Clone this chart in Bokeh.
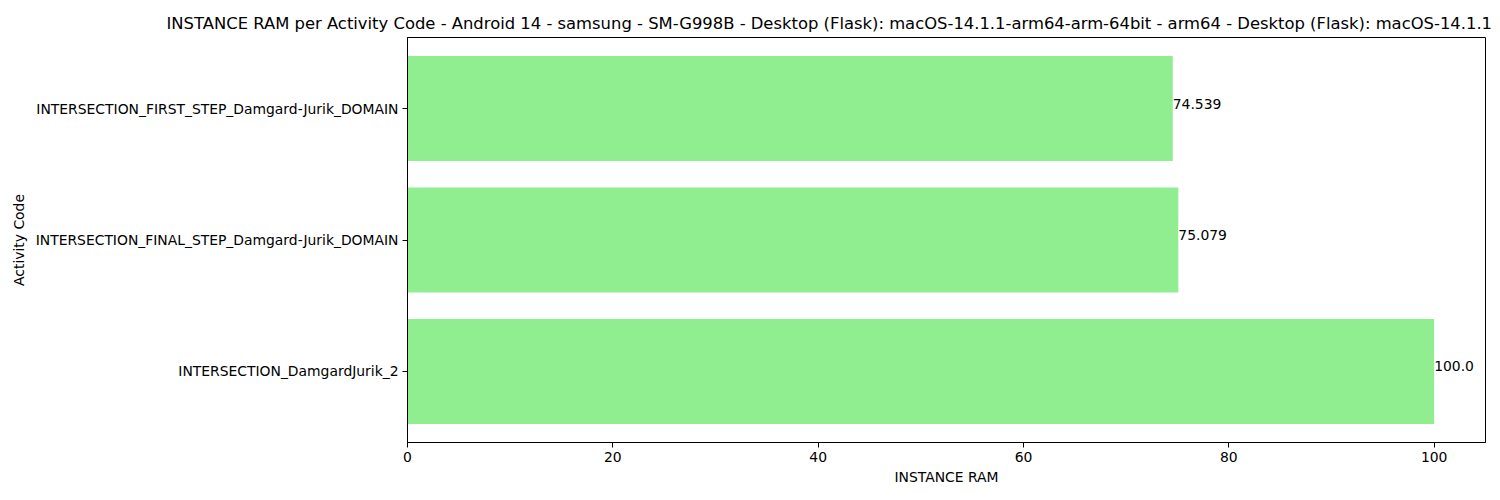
from bokeh.plotting import figure
from bokeh.models import Range1d, FactorRange, ColumnDataSource, FixedTicker
from bokeh.core.properties import value
from bokeh.embed import file_html
from bokeh.resources import INLINE

# Data (bottom-to-top order as in the chart)
categories = ["INTERSECTION_DamgardJurik_2",
              "INTERSECTION_FINAL_STEP_Damgard-Jurik_DOMAIN",
              "INTERSECTION_FIRST_STEP_Damgard-Jurik_DOMAIN"]
ram_values = [100.0, 75.079, 74.539]
value_labels = ["100.0", "75.079", "74.539"]
x_ticks = [0, 20, 40, 60, 80, 100]

# visible part of the (clipped) title in the reference
title_text = ("INSTANCE RAM per Activity Code - Android 14 - samsung - SM-G998B - "
              "Desktop (Flask): macOS-14.1.1-arm64-arm-64bit - arm64 - "
              "Desktop (Flask): macOS-14.1.1")

FONT = "DejaVu Sans"

src = ColumnDataSource(dict(cat=categories, val=ram_values, lab=value_labels))

p = figure(
    output_backend="svg", toolbar_location=None,
    width=1492, height=492,
    frame_width=1078, frame_height=405,
    x_range=Range1d(0, 105),
    y_range=FactorRange(factors=categories, range_padding=0.04,
                        range_padding_units="absolute"),
    min_border_left=407, min_border_right=7, min_border_top=37, min_border_bottom=50,
)

p.title.text = title_text
p.title.align = "left"
p.title.offset = -241
p.title.text_font = FONT
p.title.text_font_size = "16.4px"
p.title.text_font_style = "normal"
p.title.text_color = "black"
p.title.standoff = 10

p.hbar(y="cat", left=0, right="val", height=0.8, source=src,
       fill_color="#90ee90", line_color=None)
p.text(x="val", y="cat", text="lab", source=src,
       text_font=value(FONT), text_font_size="13.9px",
       text_align="left", text_baseline="middle", y_offset=-5,
       text_color="black")

p.xgrid.visible = False
p.ygrid.visible = False
p.outline_line_color = "black"
p.outline_line_width = 1
p.outline_line_alpha = 1

p.xaxis.ticker = FixedTicker(ticks=x_ticks)
p.xaxis.axis_label = "INSTANCE RAM"
p.yaxis.axis_label = "Activity Code"
for ax in (p.xaxis, p.yaxis):
    ax.axis_label_text_font = FONT
    ax.axis_label_text_font_size = "13.9px"
    ax.axis_label_text_font_style = "normal"
    ax.axis_label_text_color = "black"
    ax.major_label_text_font = FONT
    ax.major_label_text_font_size = "13.9px"
    ax.major_label_text_color = "black"
    ax.major_tick_out = 5
    ax.major_tick_in = 0
    ax.minor_tick_out = 0
    ax.minor_tick_in = 0
    ax.axis_line_color = "black"
    ax.major_tick_line_color = "black"
    ax.major_label_standoff = 4
p.xaxis.axis_label_standoff = 4
p.yaxis.axis_label_standoff = 6

open("out.html", "w").write(file_html(p, INLINE))
